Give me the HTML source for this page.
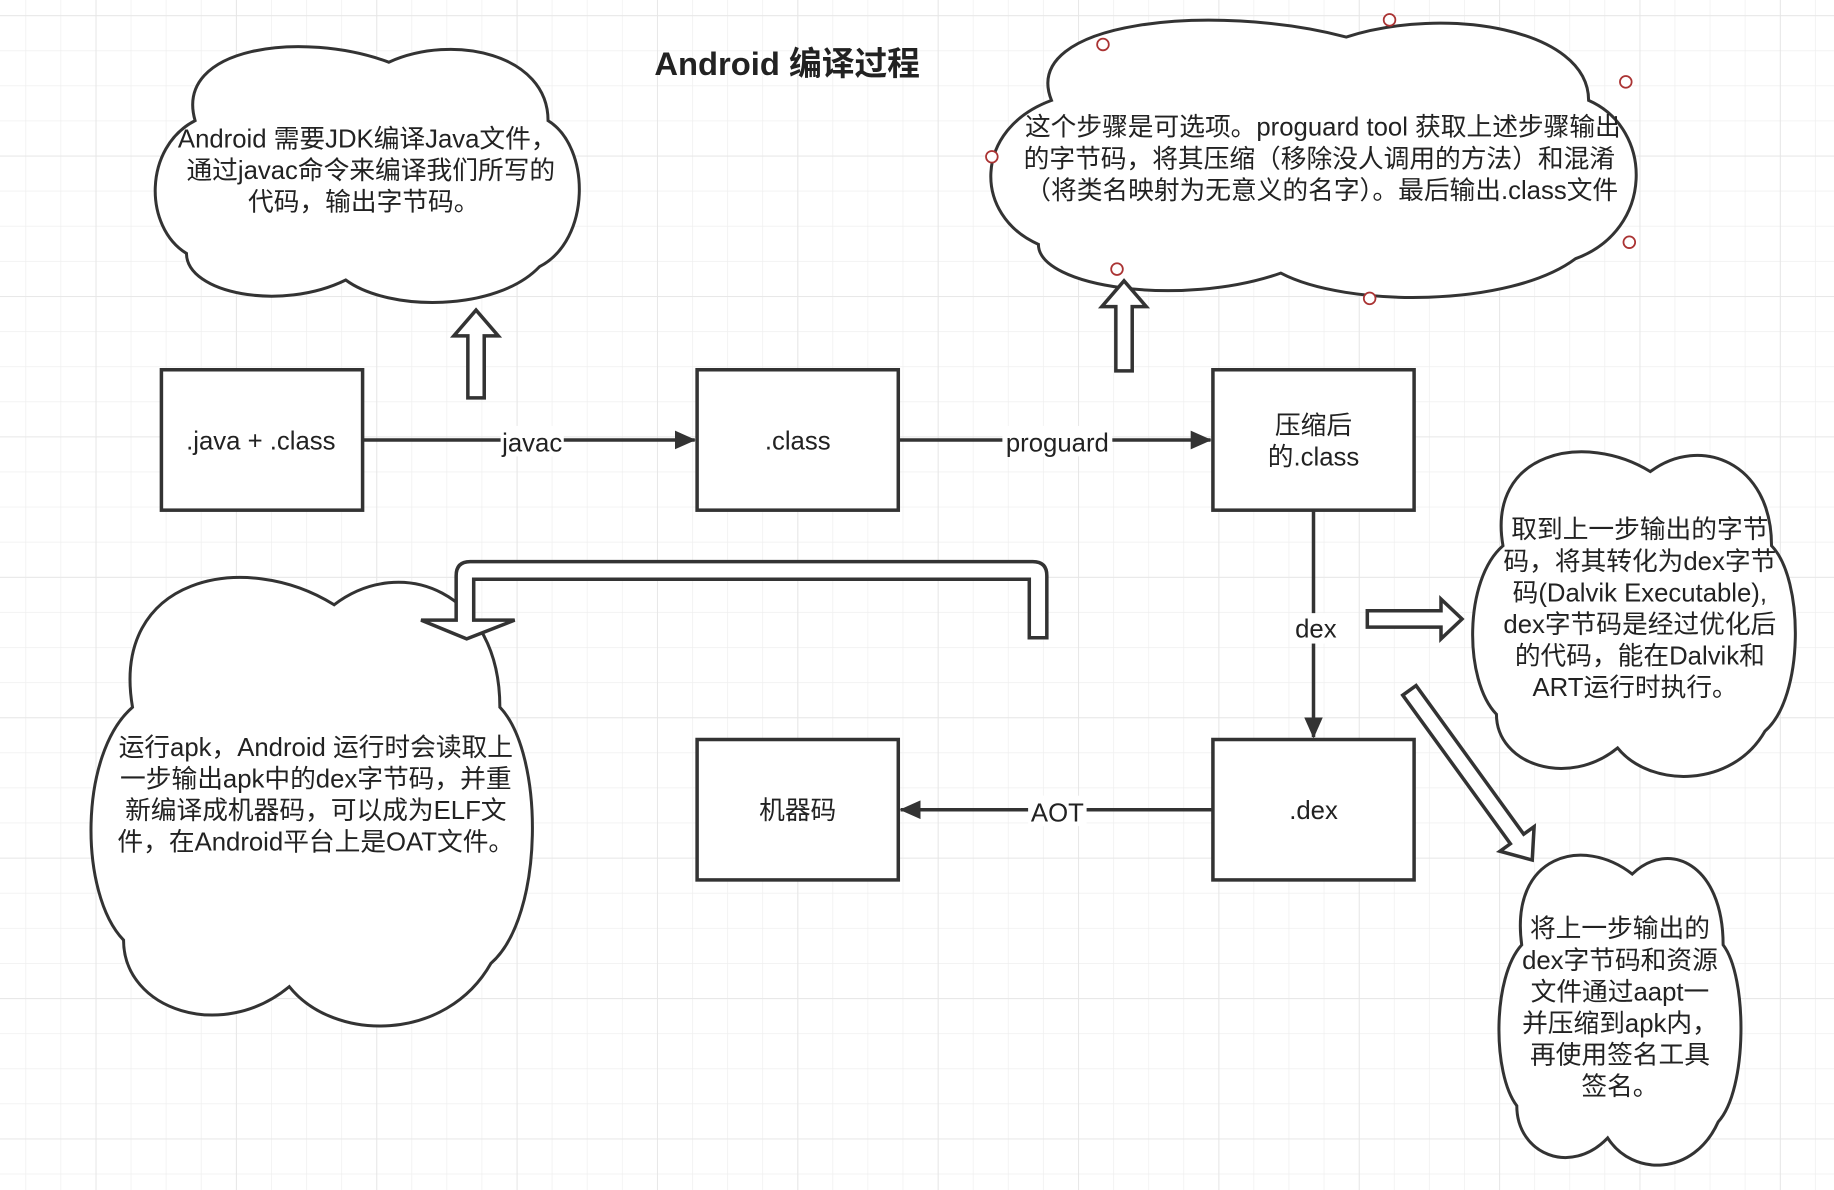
<!DOCTYPE html>
<html><head><meta charset="utf-8"><style>
html,body{margin:0;padding:0;background:#fff;}
svg{display:block}
text{font-family:"Liberation Sans","Noto Sans CJK SC",sans-serif;fill:#222;font-size:22px;text-anchor:middle}
</style></head><body>
<svg width="1834" height="1190" viewBox="0 0 1568 1017" preserveAspectRatio="none" xmlns="http://www.w3.org/2000/svg">
<defs>
<pattern id="g" x="21.7" y="13" width="30" height="30" patternUnits="userSpaceOnUse"><path d="M0 0H30M0 0V30" stroke="#efefef" stroke-width="1.2" fill="none"/></pattern>
<pattern id="G" x="81.7" y="13" width="120" height="120" patternUnits="userSpaceOnUse"><path d="M0 0H120M0 0V120" stroke="#e6e6e6" stroke-width="1.6" fill="none"/></pattern>
<marker id="ah" markerWidth="18" markerHeight="16" refX="17" refY="8" orient="auto" markerUnits="userSpaceOnUse"><path d="M0 0L18 8L0 16Z" fill="#333"/></marker>
</defs>
<rect width="1568" height="1017" fill="#fff"/>
<rect width="1568" height="1017" fill="url(#g)"/>
<rect width="1568" height="1017" fill="url(#G)"/>

<svg x="130" y="35" width="368" height="227" viewBox="0 0 1 1" preserveAspectRatio="none" overflow="visible"><path d="M0.1 0.3C0.05 0.02 0.35 -0.04 0.55 0.08C0.7 -0.03 0.92 0.05 0.92 0.3C1.02 0.4 1.02 0.75 0.9 0.85C0.8 1.02 0.55 1.02 0.45 0.9C0.3 1.02 0.08 0.95 0.08 0.8C-0.02 0.7 -0.02 0.4 0.1 0.3Z" fill="#fff" stroke="#333" stroke-width="3" vector-effect="non-scaling-stroke"/></svg>
<svg x="843" y="12" width="560" height="246" viewBox="0 0 1 1" preserveAspectRatio="none" overflow="visible"><path d="M0.1 0.3C0.05 0.02 0.35 -0.04 0.55 0.08C0.7 -0.03 0.92 0.05 0.92 0.3C1.02 0.4 1.02 0.75 0.9 0.85C0.8 1.02 0.55 1.02 0.45 0.9C0.3 1.02 0.08 0.95 0.08 0.8C-0.02 0.7 -0.02 0.4 0.1 0.3Z" fill="#fff" stroke="#333" stroke-width="3" vector-effect="non-scaling-stroke"/></svg>
<svg x="1257" y="380" width="280" height="288" viewBox="0 0 1 1" preserveAspectRatio="none" overflow="visible"><path d="M0.1 0.3C0.05 0.02 0.35 -0.04 0.55 0.08C0.7 -0.03 0.92 0.05 0.92 0.3C1.02 0.4 1.02 0.75 0.9 0.85C0.8 1.02 0.55 1.02 0.45 0.9C0.3 1.02 0.08 0.95 0.08 0.8C-0.02 0.7 -0.02 0.4 0.1 0.3Z" fill="#fff" stroke="#333" stroke-width="3" vector-effect="non-scaling-stroke"/></svg>
<svg x="75" y="485" width="383" height="398" viewBox="0 0 1 1" preserveAspectRatio="none" overflow="visible"><path d="M0.1 0.3C0.05 0.02 0.35 -0.04 0.55 0.08C0.7 -0.03 0.92 0.05 0.92 0.3C1.02 0.4 1.02 0.75 0.9 0.85C0.8 1.02 0.55 1.02 0.45 0.9C0.3 1.02 0.08 0.95 0.08 0.8C-0.02 0.7 -0.02 0.4 0.1 0.3Z" fill="#fff" stroke="#333" stroke-width="3" vector-effect="non-scaling-stroke"/></svg>
<svg x="1280" y="725" width="210" height="275" viewBox="0 0 1 1" preserveAspectRatio="none" overflow="visible"><path d="M0.1 0.3C0.05 0.02 0.35 -0.04 0.55 0.08C0.7 -0.03 0.92 0.05 0.92 0.3C1.02 0.4 1.02 0.75 0.9 0.85C0.8 1.02 0.55 1.02 0.45 0.9C0.3 1.02 0.08 0.95 0.08 0.8C-0.02 0.7 -0.02 0.4 0.1 0.3Z" fill="#fff" stroke="#333" stroke-width="3" vector-effect="non-scaling-stroke"/></svg>

<g fill="#fff" stroke="#333" stroke-width="3">
<rect x="138" y="316" width="172" height="120"/>
<rect x="596" y="316" width="172" height="120"/>
<rect x="1037" y="316" width="172" height="120"/>
<rect x="596" y="632" width="172" height="120"/>
<rect x="1037" y="632" width="172" height="120"/>
<polygon points="400,340 400,287 388,287 407,265 426,287 414,287 414,340"/>
<polygon points="954,317 954,262 942,262 961,240 980,262 968,262 968,317"/>
<polygon points="1169,522 1232,522 1232,512 1250,529 1232,546 1232,536 1169,536"/>
<polygon points="1199.3,594.1 1291.3,721.1 1282.4,727.5 1310,735 1311.6,706.5 1302.7,712.9 1210.7,585.9"/>
<path d="M880 545H895V492Q895 480 883 480H402Q390 480 390 492V530H360L399 546L440 530H405V495H880Z"/>
</g>
<g stroke="#333" stroke-width="3" fill="none">
<line x1="310" y1="376" x2="594" y2="376" marker-end="url(#ah)"/>
<line x1="768" y1="376" x2="1035" y2="376" marker-end="url(#ah)"/>
<line x1="1123" y1="436" x2="1123" y2="630" marker-end="url(#ah)"/>
<line x1="1037" y1="692" x2="770" y2="692" marker-end="url(#ah)"/>
</g>
<g fill="#fff">
<rect x="428" y="364" width="54" height="26"/><rect x="857" y="364" width="94" height="26"/>
<rect x="1104" y="524" width="40" height="26"/><rect x="879" y="680" width="50" height="26"/>
</g>
<g fill="#fff" stroke="#a33" stroke-width="1.5">
<circle cx="943" cy="38" r="5"/><circle cx="1188" cy="17" r="5"/><circle cx="1390" cy="70" r="5"/><circle cx="848" cy="134" r="5"/><circle cx="1393" cy="207" r="5"/><circle cx="955" cy="230" r="5"/><circle cx="1171" cy="255" r="5"/>
</g>
<text x="673" y="64" style="font-size:28px;font-weight:bold">Android 编译过程</text>
<text x="223" y="384">.java + .class</text>
<text x="455" y="386">javac</text>
<text x="682" y="384">.class</text>
<text x="904" y="386">proguard</text>
<text x="1123" y="371">压缩后</text><text x="1123" y="398">的.class</text>
<text x="1125" y="545">dex</text>
<text x="682" y="700">机器码</text>
<text x="904" y="702">AOT</text>
<text x="1123" y="700">.dex</text>
<text x="314" y="126">Android 需要JDK编译Java文件，</text>
<text x="317" y="153">通过javac命令来编译我们所写的</text>
<text x="311" y="180">代码，输出字节码。</text>
<text x="1131" y="116">这个步骤是可选项。proguard tool 获取上述步骤输出</text>
<text x="1128" y="143">的字节码，将其压缩（移除没人调用的方法）和混淆</text>
<text x="1130" y="170">（将类名映射为无意义的名字）。最后输出.class文件</text>
<text x="1402" y="460">取到上一步输出的字节</text>
<text x="1402" y="487">码，将其转化为dex字节</text>
<text x="1402" y="514">码(Dalvik Executable),</text>
<text x="1402" y="541">dex字节码是经过优化后</text>
<text x="1402" y="568">的代码，能在Dalvik和</text>
<text x="1398" y="595">ART运行时执行。</text>
<text x="270" y="646">运行apk，Android 运行时会读取上</text>
<text x="270" y="673">一步输出apk中的dex字节码，并重</text>
<text x="270" y="700">新编译成机器码，可以成为ELF文</text>
<text x="270" y="727">件，在Android平台上是OAT文件。</text>
<text x="1385" y="801">将上一步输出的</text>
<text x="1385" y="828">dex字节码和资源</text>
<text x="1385" y="855">文件通过aapt一</text>
<text x="1385" y="882">并压缩到apk内，</text>
<text x="1385" y="909">再使用签名工具</text>
<text x="1385" y="936">签名。</text>
</svg>
</body></html>
